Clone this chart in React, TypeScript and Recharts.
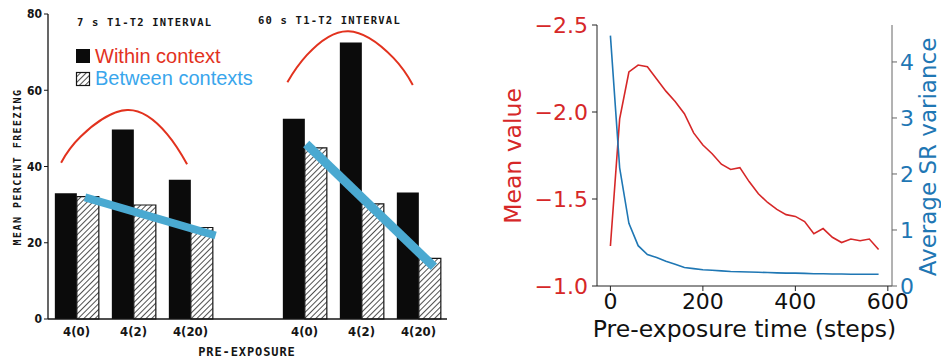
import { Bar, ComposedChart, Line, XAxis, YAxis } from 'recharts'

// ---- left panel: scanned freezing bar chart ----
const PRE_EXPOSURE = ['4(0)', '4(2)', '4(20)', '', '4(0)', '4(2)', '4(20)']
const WITHIN = [33.0, 49.7, 36.5, null, 52.5, 72.5, 33.2]
const BETWEEN = [32.1, 29.9, 24.0, null, 44.9, 30.2, 15.9]
const FREEZE_TICKS = [0, 20, 40, 60, 80]

// hand-drawn overlays, x in bar-slot units (0..7)
const ARC_7S_X = [0.23, 0.57, 1.39, 2.09, 2.44]
const ARC_7S_Y = [41.0, 47.8, 54.8, 48.5, 40.6]
const ARC_60S_X = [4.2, 4.54, 5.27, 6.06, 6.4]
const ARC_60S_Y = [62.1, 69.2, 75.5, 68.5, 61.4]
const TREND_7S_X = [0.65, 2.94]
const TREND_7S_Y = [31.9, 21.9]
const TREND_60S_X = [4.53, 6.77]
const TREND_60S_Y = [45.9, 13.7]

// ---- right panel: model ----
const STEPS = [0, 20, 40, 60, 80, 100, 120, 140, 160, 180, 200, 220, 240, 260, 280, 300, 320, 340, 360, 380, 400, 420, 440, 460, 480, 500, 520, 540, 560, 580]
const MEAN_VALUE = [-1.23, -1.96, -2.23, -2.27, -2.26, -2.19, -2.12, -2.06, -1.99, -1.88, -1.81, -1.76, -1.7, -1.67, -1.68, -1.6, -1.53, -1.48, -1.44, -1.41, -1.4, -1.37, -1.3, -1.33, -1.28, -1.25, -1.27, -1.26, -1.27, -1.21]
const SR_VARIANCE = [4.47, 2.11, 1.12, 0.72, 0.56, 0.51, 0.44, 0.39, 0.33, 0.31, 0.29, 0.28, 0.27, 0.26, 0.255, 0.25, 0.245, 0.24, 0.235, 0.23, 0.23, 0.225, 0.22, 0.22, 0.215, 0.215, 0.21, 0.21, 0.21, 0.21]
const STEP_TICKS = [0, 200, 400, 600]
const MEAN_TICKS = [-2.5, -2.0, -1.5, -1.0]
const SR_TICKS = [0, 1, 2, 3, 4]

const INK = '#151515'
const ARC_RED = '#e2321e'
const TREND_BLUE = '#4aa9d1'
const MPL_RED = '#d62728'
const MPL_BLUE = '#1f77b4'
const SCAN_FONT = "'DejaVu Sans Condensed', 'DejaVu Sans', sans-serif"
const MONO = "'DejaVu Sans Mono', monospace"
const MPL_FONT = "'DejaVu Sans', sans-serif"

const pts = (xs: number[], ys: number[]) => xs.map((x, i) => ({ x, y: ys[i] }))
const minus = (v: number) => (v < 0 ? '\u2212' : '') + Math.abs(v).toFixed(1)

const barRows = PRE_EXPOSURE.map((label, i) => ({ label, within: WITHIN[i], between: BETWEEN[i] }))
const modelRows = STEPS.map((step, i) => ({ step, mean: MEAN_VALUE[i], sr: SR_VARIANCE[i] }))

function FreezingPanel() {
  const scanTick = { fontSize: 13, fontWeight: 700, fill: INK, fontFamily: SCAN_FONT }
  const overlay = (xs: number[], ys: number[], color: string, w: number, curve: 'natural' | 'linear', key: string) => (
    <Line key={key} xAxisId="num" data={pts(xs, ys)} dataKey="y" type={curve} stroke={color} strokeWidth={w}
      dot={false} activeDot={false} isAnimationActive={false} strokeLinecap="butt" />
  )
  return (
    <ComposedChart width={470} height={360} data={barRows} margin={{ top: 14, right: 23, bottom: 11, left: 0 }}
      barCategoryGap="12%" barGap={0}>
      <XAxis xAxisId="cat" dataKey="label" interval={0} height={30} tickLine={false} tickSize={0} tickMargin={8}
        axisLine={{ stroke: INK, strokeWidth: 1.3 }} tick={scanTick} />
      <XAxis xAxisId="num" type="number" dataKey="x" domain={[0, 7]} hide allowDataOverflow />
      <YAxis domain={[0, 80]} ticks={FREEZE_TICKS} width={48} tickSize={4} tickMargin={2}
        axisLine={{ stroke: INK, strokeWidth: 1.3 }} tickLine={{ stroke: INK }} tick={{ ...scanTick, fontSize: 12 }} />
      <Bar xAxisId="cat" dataKey="within" fill="#0b0b0b" isAnimationActive={false} />
      <Bar xAxisId="cat" dataKey="between" fill="url(#hatch)" stroke={INK} strokeWidth={1.2} isAnimationActive={false} />
      {overlay(ARC_7S_X, ARC_7S_Y, ARC_RED, 2, 'natural', 'a7')}
      {overlay(ARC_60S_X, ARC_60S_Y, ARC_RED, 2, 'natural', 'a60')}
      {overlay(TREND_7S_X, TREND_7S_Y, TREND_BLUE, 8, 'linear', 't7')}
      {overlay(TREND_60S_X, TREND_60S_Y, TREND_BLUE, 9, 'linear', 't60')}
    </ComposedChart>
  )
}

function ModelPanel() {
  const tick = (fill: string) => ({ fontSize: 22, fill, fontFamily: MPL_FONT })
  return (
    <ComposedChart width={446} height={360} data={modelRows} margin={{ top: 25, right: 0, bottom: 14, left: 0 }}>
      <XAxis dataKey="step" type="number" domain={[-29, 609]} ticks={STEP_TICKS} height={60} tickSize={5} tickMargin={2}
        axisLine={{ stroke: '#222' }} tickLine={{ stroke: '#222' }} tick={tick('#111')} />
      <XAxis xAxisId="top" orientation="top" height={0} tick={false} tickLine={false} axisLine={{ stroke: '#222' }} />
      <YAxis yAxisId="mean" reversed domain={[-2.5, -1.0]} ticks={MEAN_TICKS} tickFormatter={minus} width={102}
        tickSize={5} tickMargin={4} axisLine={{ stroke: '#222' }} tickLine={{ stroke: '#222' }} tick={tick(MPL_RED)} />
      <YAxis yAxisId="sr" orientation="right" domain={[0, 4.66]} ticks={SR_TICKS} width={49}
        tickSize={5} tickMargin={3} axisLine={{ stroke: '#666' }} tickLine={{ stroke: '#666' }} tick={tick(MPL_BLUE)} />
      <Line yAxisId="mean" dataKey="mean" type="linear" stroke={MPL_RED} strokeWidth={1.6} dot={false} isAnimationActive={false} />
      <Line yAxisId="sr" dataKey="sr" type="linear" stroke={MPL_BLUE} strokeWidth={1.6} dot={false} isAnimationActive={false} />
    </ComposedChart>
  )
}

export default function App() {
  const mono = { fontFamily: MONO, fontWeight: 700, fill: INK }
  return (
    <div style={{ position: 'absolute', left: 0, top: 0, width: 941, height: 360, background: '#fff', overflow: 'hidden' }}>
      <div style={{ position: 'absolute', left: 0, top: 0 }}>
        <FreezingPanel />
      </div>
      <div style={{ position: 'absolute', left: 495, top: 0 }}>
        <ModelPanel />
      </div>
      <svg width={941} height={360} style={{ position: 'absolute', left: 0, top: 0, pointerEvents: 'none' }}>
        <defs>
          <pattern id="hatch" width={4} height={4} patternUnits="userSpaceOnUse" patternTransform="rotate(45)">
            <rect width={4} height={4} fill="#fff" />
            <line x1={0} y1={0} x2={0} y2={4} stroke={INK} strokeWidth={1.5} />
          </pattern>
        </defs>
        <text x={77} y={26} fontSize={10.5} letterSpacing={1.2} {...mono}>7 s T1-T2 INTERVAL</text>
        <text x={258} y={24} fontSize={10.5} letterSpacing={1.2} {...mono}>60 s T1-T2 INTERVAL</text>
        <rect x={76} y={49} width={14} height={14} fill="#0b0b0b" />
        <rect x={76.5} y={72.5} width={13} height={13} fill="url(#hatch)" stroke={INK} strokeWidth={1.2} />
        <text x={95} y={62.7} fontSize={20} fill={ARC_RED} fontFamily="'Liberation Sans', Arial, sans-serif">Within context</text>
        <text x={95} y={85} fontSize={20} fill="#3aa6ec" fontFamily="'Liberation Sans', Arial, sans-serif">Between contexts</text>
        <text x={247} y={356} fontSize={12} letterSpacing={0.9} textAnchor="middle" {...mono}>PRE-EXPOSURE</text>
        <text x={17} y={167} fontSize={10} letterSpacing={1.45} textAnchor="middle" dominantBaseline="central"
          transform="rotate(-90 17 167)" {...mono}>MEAN PERCENT FREEZING</text>
        <text x={744.5} y={337} fontSize={23.5} textAnchor="middle" fill="#111" fontFamily={MPL_FONT}>Pre-exposure time (steps)</text>
        <text x={513} y={156} fontSize={23.5} textAnchor="middle" dominantBaseline="central" fill={MPL_RED}
          fontFamily={MPL_FONT} transform="rotate(-90 513 156)">Mean value</text>
        <text x={928} y={157} fontSize={23} textAnchor="middle" dominantBaseline="central" fill={MPL_BLUE}
          fontFamily={MPL_FONT} transform="rotate(-90 928 157)">Average SR variance</text>
      </svg>
    </div>
  )
}
